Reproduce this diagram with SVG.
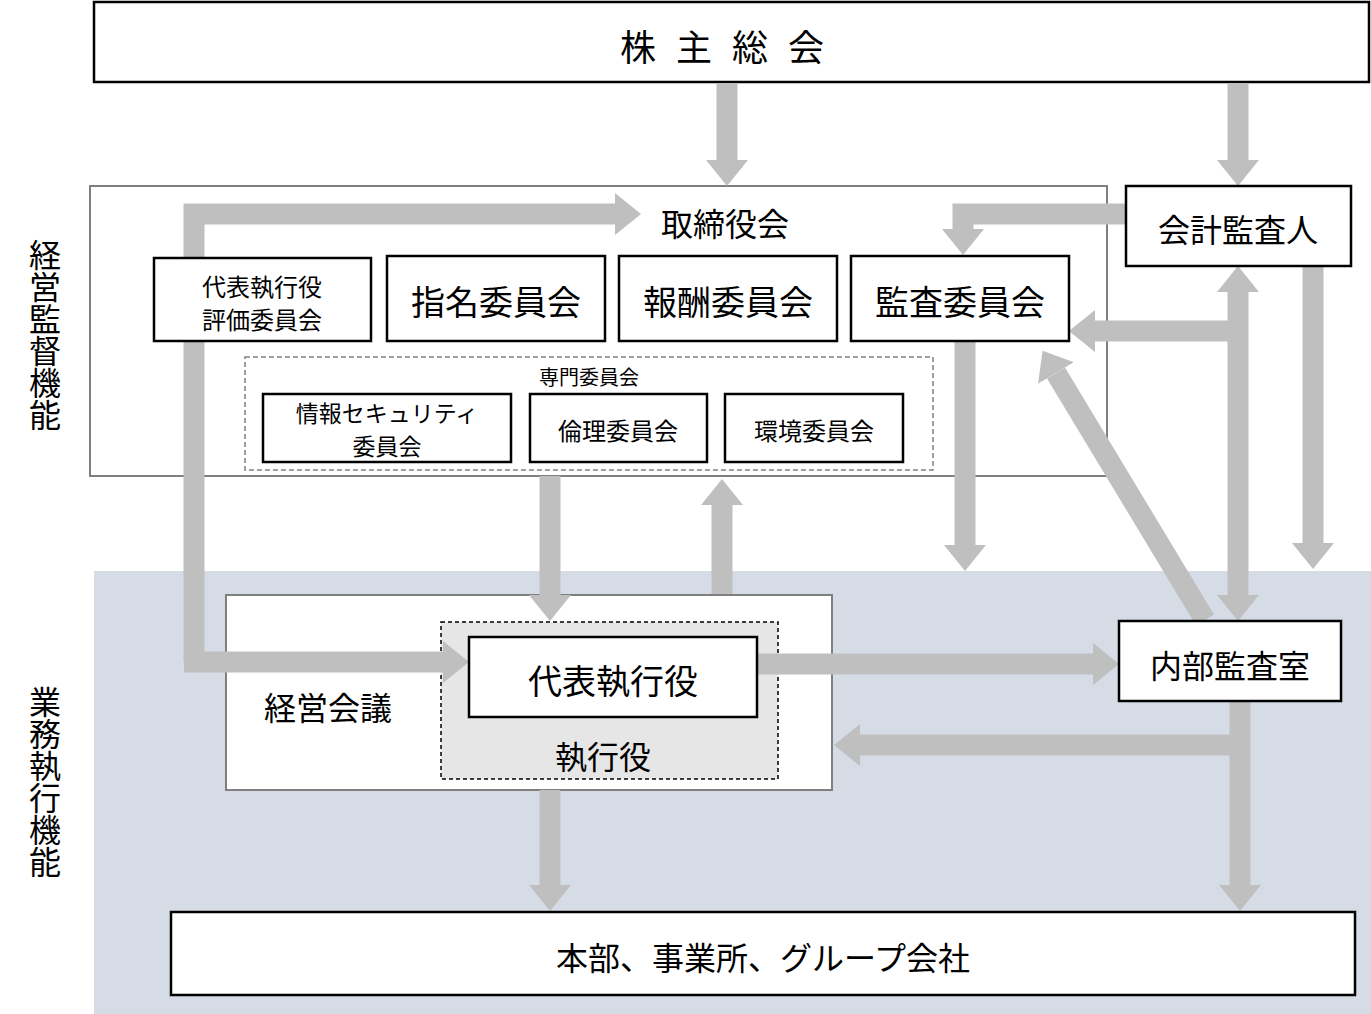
<svg xmlns="http://www.w3.org/2000/svg" width="1371" height="1014" viewBox="0 0 1371 1014">
<style>
text{font-family:"Noto Sans CJK JP","Noto Sans",sans-serif;fill:#000;text-anchor:middle;dominant-baseline:central}
.b{fill:#fff;stroke:#000;stroke-width:2.5}
.a{fill:none;stroke:#bfbfbf;stroke-width:21;marker-end:url(#h)}
</style>
<defs>
<marker id="h" markerUnits="userSpaceOnUse" markerWidth="26" markerHeight="42" refX="0" refY="21" orient="auto-start-reverse" viewBox="0 0 26 42"><path d="M0,0 L26,21 L0,42 z" fill="#bfbfbf"/></marker>
</defs>
<rect x="94" y="571" width="1277" height="443" fill="#d6dce6"/>
<g id="board"><rect x="90" y="186" width="1017" height="290" fill="#fff" stroke="#7f7f7f" stroke-width="2"/><text x="725" y="222" font-size="32">取締役会</text></g>
<g id="mgmt"><rect x="226" y="595" width="606" height="195" fill="#fff" stroke="#7f7f7f" stroke-width="2"/><text x="328" y="706" font-size="32">経営会議</text>
<rect x="441" y="622" width="337" height="157" fill="#e6e6e6" stroke="#000" stroke-width="1.5" stroke-dasharray="4,3"/><text x="603" y="755" font-size="32">執行役</text></g>
<g id="connectors">
<path class="a" d="M727,84 V160"/>
<path class="a" d="M1238,84 V160"/>
<path class="a" d="M1126,214 H963 V229"/>
<path class="a" d="M194,662 V214 H615"/>
<path class="a" d="M184,662 H443"/>
<path class="a" d="M550,476 V595"/>
<path class="a" d="M722,594 V505"/>
<path class="a" d="M965,341 V545"/>
<path class="a" d="M1313,266 V543"/>
<path class="a" d="M1238,292 V595" style="marker-start:url(#h)"/>
<path class="a" d="M1238,331 H1095"/>
<path class="a" d="M1205,620 L1056,373"/>
<path class="a" d="M757,664 H1093"/>
<path class="a" d="M1240,701 V885"/>
<path class="a" d="M1240,745 H860"/>
<path class="a" d="M550,790 V885"/>
</g>
<g id="agm"><rect class="b" x="94" y="2" width="1275" height="80"/><text x="732" y="45" font-size="36" letter-spacing="20">株主総会</text></g>
<g id="auditor"><rect class="b" x="1126" y="186" width="225" height="80"/><text x="1238" y="228" font-size="32">会計監査人</text></g>
<g id="eval"><rect class="b" x="154" y="258" width="217" height="83"/><text x="262" y="285" font-size="24">代表執行役</text><text x="262" y="318" font-size="24">評価委員会</text></g>
<g id="nom"><rect class="b" x="387" y="256" width="218" height="85"/><text x="496" y="300" font-size="34">指名委員会</text></g>
<g id="comp"><rect class="b" x="619" y="256" width="218" height="85"/><text x="728" y="300" font-size="34">報酬委員会</text></g>
<g id="audit"><rect class="b" x="851" y="256" width="218" height="85"/><text x="960" y="300" font-size="34">監査委員会</text></g>
<g id="special"><rect x="245" y="357" width="688" height="113" fill="none" stroke="#808080" stroke-width="1.5" stroke-dasharray="5,3"/><text x="589" y="376" font-size="20">専門委員会</text></g>
<g id="info"><rect class="b" x="263" y="394" width="248" height="68"/><text x="387" y="412" font-size="23">情報セキュリティ</text><text x="387" y="445" font-size="23">委員会</text></g>
<g id="ethics"><rect class="b" x="530" y="394" width="177" height="68"/><text x="618" y="429" font-size="24">倫理委員会</text></g>
<g id="env"><rect class="b" x="725" y="394" width="178" height="68"/><text x="814" y="429" font-size="24">環境委員会</text></g>
<g id="ceo"><rect class="b" x="469" y="637" width="288" height="80"/><text x="613" y="679" font-size="34">代表執行役</text></g>
<g id="internal"><rect class="b" x="1119" y="621" width="222" height="80"/><text x="1230" y="664" font-size="32">内部監査室</text></g>
<g id="group"><rect class="b" x="171" y="912" width="1184" height="83"/><text x="763" y="956" font-size="32">本部、事業所、グループ会社</text></g>
<text x="45" y="335" font-size="32" style="writing-mode:vertical-rl;dominant-baseline:auto" text-anchor="middle">経営監督機能</text>
<text x="45" y="782" font-size="32" style="writing-mode:vertical-rl;dominant-baseline:auto" text-anchor="middle">業務執行機能</text>
</svg>
